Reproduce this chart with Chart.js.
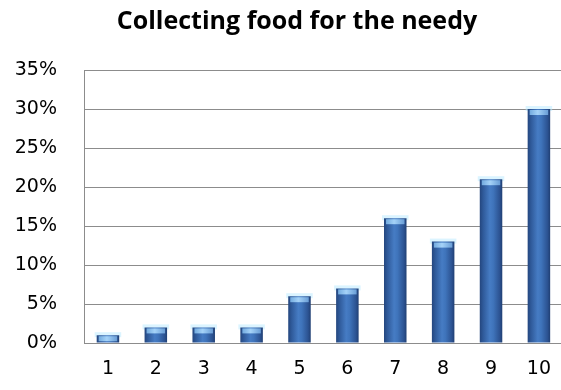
<!DOCTYPE html>
<html>
<head>
<meta charset="utf-8">
<script src="https://cdn.jsdelivr.net/npm/chart.js@4/dist/chart.umd.min.js"></script>
<style>
  html, body { margin: 0; padding: 0; background: #fff; overflow: hidden; }
  #wrap { width: 561px; height: 390px; overflow: hidden; position: relative; }
  #wrap canvas { display: block; }
</style>
</head>
<body>
<div id="wrap"><canvas id="c" width="566" height="390"></canvas></div>
<script>
// Ratings 1..10 and share of answers for each
const categories = ['1', '2', '3', '4', '5', '6', '7', '8', '9', '10'];
const shares = [1, 2, 2, 2, 6, 7, 16, 13, 21, 30];
const yTicks = [0, 5, 10, 15, 20, 25, 30, 35];
const chartTitle = 'Collecting food for the needy';

const BAR_PCT = 0.47;

// Horizontal shading that makes each column look rounded
function columnFill(ctx) {
  const chart = ctx.chart;
  const xs = chart.scales && chart.scales.x;
  if (!xs || ctx.dataIndex === undefined) return '#3a6db5';
  const cx = xs.getPixelForValue(ctx.dataIndex);
  const w = (xs.width / categories.length) * BAR_PCT;
  if (!isFinite(cx) || !isFinite(w) || w <= 0) return '#3a6db5';
  const g = chart.ctx.createLinearGradient(cx - w / 2, 0, cx + w / 2, 0);
  g.addColorStop(0, '#24467e');
  g.addColorStop(0.15, '#2f5a9a');
  g.addColorStop(0.45, '#467cc4');
  g.addColorStop(0.6, '#3f74bb');
  g.addColorStop(0.88, '#2c5392');
  g.addColorStop(1, '#203f73');
  return g;
}

// Light cap and soft glow on each column top
const columnCaps = {
  id: 'columnCaps',
  beforeDatasetsDraw(chart) {
    const { ctx } = chart;
    const meta = chart.getDatasetMeta(0);
    ctx.save();
    meta.data.forEach(el => {
      const w = el.width;
      if (!isFinite(el.x) || !isFinite(w)) return;
      ctx.fillStyle = 'rgba(190,235,255,0.55)';
      ctx.fillRect(el.x - w / 2 - 2, el.y - 3, w + 4, 5);
    });
    ctx.restore();
  },
  afterDatasetsDraw(chart) {
    const { ctx } = chart;
    const meta = chart.getDatasetMeta(0);
    ctx.save();
    meta.data.forEach(el => {
      const w = el.width;
      if (!isFinite(el.x) || !isFinite(w)) return;
      const h = Math.min(6, el.base - el.y);
      const g = ctx.createLinearGradient(el.x - w / 2, 0, el.x + w / 2, 0);
      g.addColorStop(0, 'rgba(110,170,225,0.9)');
      g.addColorStop(0.45, 'rgba(170,215,250,0.95)');
      g.addColorStop(1, 'rgba(100,155,215,0.9)');
      ctx.fillStyle = g;
      ctx.fillRect(el.x - w / 2 + 2, el.y + 1, w - 4, h - 1);
    });
    ctx.restore();
  }
};

// Centre the title a little right of the canvas middle
const titleShift = {
  id: 'titleShift',
  afterLayout(chart) {
    const t = chart.titleBlock;
    if (t) { t.left = 28; t.right = chart.width; t.width = t.right - t.left; }
  }
};

new Chart(document.getElementById('c'), {
  type: 'bar',
  data: {
    labels: categories,
    datasets: [{
      data: shares,
      backgroundColor: columnFill,
      borderWidth: 0,
      barPercentage: BAR_PCT,
      categoryPercentage: 1
    }]
  },
  options: {
    responsive: false,
    animation: false,
    events: [],
    layout: { padding: { left: 0, right: 0, top: 0, bottom: 0 } },
    plugins: {
      legend: { display: false },
      tooltip: { enabled: false },
      title: {
        display: true,
        text: chartTitle,
        color: '#000',
        font: { family: 'Open Sans', size: 25, weight: 'bold', lineHeight: 1.2 },
        padding: { top: 7, bottom: 33 }
      }
    },
    scales: {
      x: {
        grid: { display: false, drawTicks: false },
        border: { display: false },
        ticks: {
          color: '#000',
          font: { family: 'DejaVu Sans', size: 19 },
          padding: 15
        },
        afterFit(s) { s.height = 47; }
      },
      y: {
        min: 0,
        max: 35,
        afterBuildTicks(s) { s.ticks = yTicks.map(v => ({ value: v })); },
        grid: { color: '#8c8c8c', lineWidth: 1, drawTicks: false },
        border: { display: true, color: '#8c8c8c', width: 1 },
        ticks: {
          color: '#000',
          font: { family: 'DejaVu Sans', size: 19 },
          padding: 27,
          callback: v => v + '%'
        },
        afterFit(s) { s.width = 84; }
      }
    }
  },
  plugins: [columnCaps, titleShift]
});
</script>
</body>
</html>
